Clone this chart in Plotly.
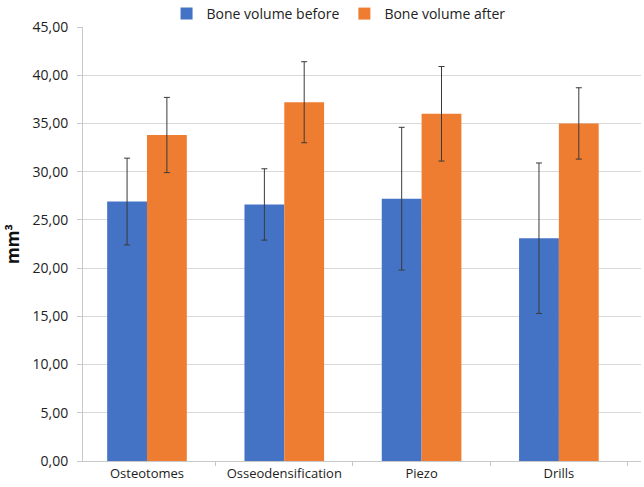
import plotly.graph_objects as go

categories = ["Osteotomes", "Osseodensification", "Piezo", "Drills"]
before = [26.9, 26.6, 27.2, 23.1]
before_err = [4.5, 3.7, 7.4, 7.8]
after = [33.8, 37.2, 36.0, 35.0]
after_err = [3.9, 4.2, 4.9, 3.7]
y_ticks = [0, 5, 10, 15, 20, 25, 30, 35, 40, 45]

font = "Open Sans"
err_style = dict(type="data", thickness=1, width=3, color="#3a3a3a")

fig = go.Figure()
fig.add_trace(go.Bar(
    name="Bone volume before", x=categories, y=before,
    marker=dict(color="#4472c4", line=dict(width=0)),
    error_y=dict(array=before_err, **err_style),
))
fig.add_trace(go.Bar(
    name="Bone volume after", x=categories, y=after,
    marker=dict(color="#ee7d31", line=dict(width=0)),
    error_y=dict(array=after_err, **err_style),
))

fig.update_layout(
    width=644, height=487,
    margin=dict(l=83, r=3, t=27, b=26, autoexpand=False),
    paper_bgcolor="white", plot_bgcolor="white",
    barmode="group", bargap=0.42, bargroupgap=0,
    separators=", ",
    font=dict(family=font, size=13, color="#222"),
    legend=dict(orientation="h", x=0.458, xanchor="center", y=1.03, yanchor="middle",
                font=dict(size=14, color="#222"), itemwidth=30, tracegroupgap=0),
    showlegend=True,
)
fig.update_xaxes(
    range=[-0.466, 3.598], showgrid=False, showline=True, linecolor="#c8c8c8",
    ticks="outside", tickson="boundaries", ticklen=4, tickcolor="#c8c8c8",
    tickfont=dict(size=13, color="#222"), automargin=False,
)
fig.update_yaxes(
    range=[0, 45], tickvals=y_ticks, tickformat=".2f",
    showgrid=True, gridcolor="#d9d9d9", gridwidth=1,
    showline=True, linecolor="#c8c8c8", ticks="outside", ticklen=5, tickcolor="#c8c8c8",
    ticklabelstandoff=6,
    tickfont=dict(size=14, color="#222"), zeroline=False, automargin=False,
    title=dict(text="<b>mm³</b>", font=dict(size=17, color="#111"), standoff=8),
)

fig.write_html("out.html", config={"displayModeBar": False},
               post_script="document.body.style.margin='0';")
